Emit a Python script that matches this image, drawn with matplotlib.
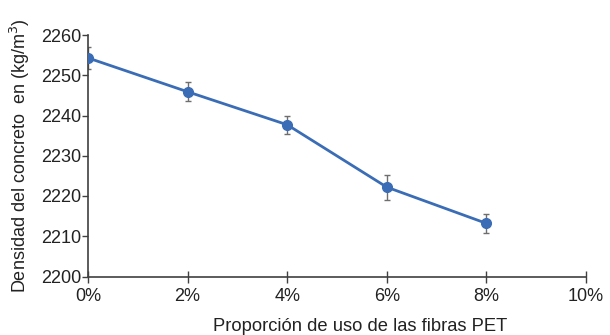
import numpy as np
import matplotlib.pyplot as plt

# data
fiber_pct = [0, 2, 4, 6, 8]
density = [2254.3, 2245.9, 2237.7, 2222.2, 2213.2]
density_err = [2.7, 2.4, 2.3, 3.1, 2.3]

x_ticks = [0, 2, 4, 6, 8, 10]
x_labels = ["0%", "2%", "4%", "6%", "8%", "10%"]
y_ticks = [2200, 2210, 2220, 2230, 2240, 2250, 2260]

plt.rcParams['font.family'] = ['Liberation Sans', 'DejaVu Sans']

fig = plt.figure(figsize=(6.1, 3.35), dpi=100)
ax = fig.add_axes([88 / 610, 1 - 276.5 / 335, 498 / 610, 241.5 / 335])

# error bars first (grey), then the line on top
ax.errorbar(fiber_pct, density, yerr=density_err, fmt='none',
            ecolor='#6e6e6e', elinewidth=1.0, capsize=2.5, capthick=1.0, zorder=2)
ax.plot(fiber_pct, density, color='#3a6db5', linewidth=2.0,
        marker='o', markersize=7, zorder=3)

ax.set_xlim(0, 10)
ax.set_ylim(2200, 2260)
ax.set_xticks(x_ticks)
ax.set_xticklabels(x_labels)
ax.set_yticks(y_ticks)

for side in ['top', 'right']:
    ax.spines[side].set_visible(False)
for side in ['left', 'bottom']:
    ax.spines[side].set_color('#404040')
    ax.spines[side].set_linewidth(1.2)

ax.tick_params(axis='x', direction='inout', length=8, width=1.0, color='#404040',
               labelsize=13, pad=4, labelcolor='#222222')
ax.tick_params(axis='y', direction='out', length=4, width=1.0, color='#404040',
               labelsize=13, pad=1, labelcolor='#222222')

ax.set_xlabel("Proporción de uso de las fibras PET", fontsize=13.2,
              color='#222222')
ax.xaxis.set_label_coords(0.546, -0.226)
ax.xaxis.label.set_va('baseline')
ax.set_ylabel("Densidad del concreto  en (kg/m$^3$)", fontsize=13, labelpad=6,
              color='#222222')

fig.savefig("out.png", dpi=100)
